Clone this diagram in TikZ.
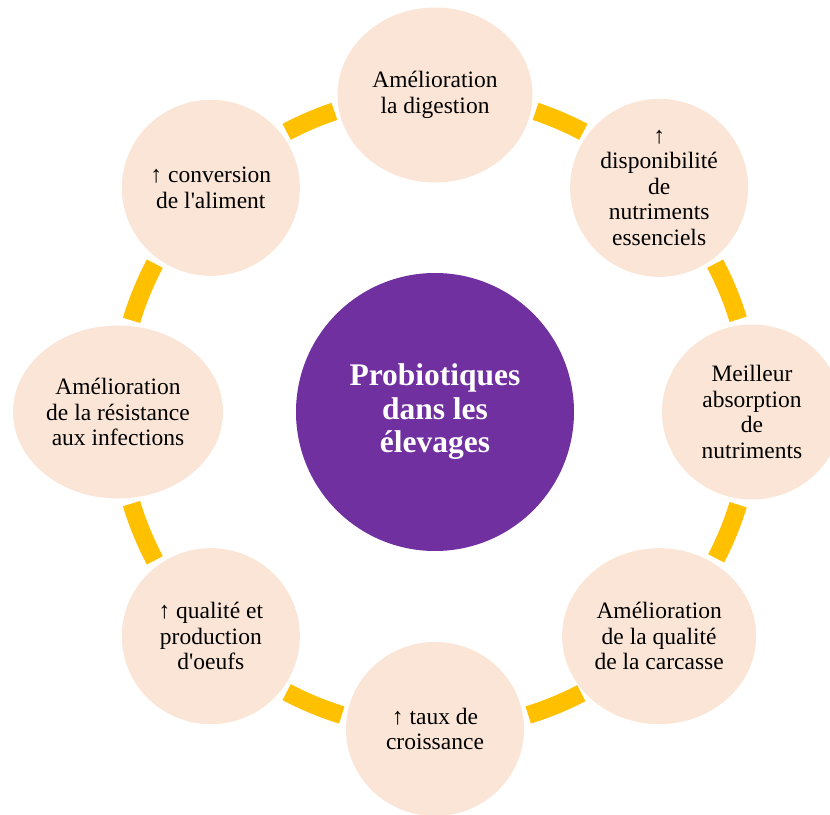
\documentclass[tikz,border=0pt]{standalone}
\usepackage{fontspec}
\setmainfont{Liberation Serif}
\usetikzlibrary{shapes.geometric}
\definecolor{peche}{HTML}{FBE5D6}
\definecolor{mauve}{HTML}{7030A0}
\definecolor{jaune}{HTML}{FFC000}
\tikzset{bulle/.style={ellipse,fill=peche,inner sep=0pt,align=center,font=\fontsize{23.5}{25.5}\selectfont},
	coeur/.style={circle,fill=mauve,minimum size=278,inner sep=0pt,align=center,text=white,font=\bfseries\fontsize{31.5}{33.5}\selectfont},
	anneau/.style={draw=jaune,line width=18}}

\begin{document}
\begin{tikzpicture}[x=1pt,y=1pt]
	\useasboundingbox (-435,-402) rectangle (395,412);
	% segments jaunes de l'anneau
	\foreach \de/\a in {62.1/71.5,17/27.9,-27.5/-17,-72.9/-62.5,-117.9/-107.1,-163.2/-152.1,152.1/163.2,108.5/117.9}{
		\draw[anneau] (\de:317) arc[start angle=\de,end angle=\a,radius=317];
	}
	\node[coeur] (P) at (0,0) {Probiotiques\\dans les\\élevages};
	% bulles autour
	\foreach \ang/\nom/\larg/\haut/\txt in {
		90/dig/195/175/{Amélioration\\la digestion},
		45/dispo/178/178/{↑\\disponibilité\\de\\nutriments\\essenciels},
		0/abs/180/175/{Meilleur\\absorption\\de\\nutriments},
		-45/carc/194/176/{Amélioration\\de la qualité\\de la carcasse},
		-90/crois/178/174/{↑ taux de\\croissance},
		-135/oeuf/178/176/{↑ qualité et\\production\\d\textquotesingle oeufs},
		180/inf/210/173/{Amélioration\\de la résistance\\aux infections},
		135/conv/178/176/{↑ conversion\\de l\textquotesingle aliment}}{
		\node[bulle,minimum width=\larg,minimum height=\haut] (\nom) at (\ang:317) {\txt};
	}
\end{tikzpicture}
\end{document}
